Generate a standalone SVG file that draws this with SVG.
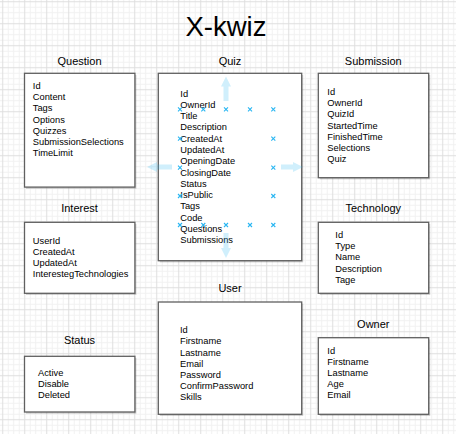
<svg xmlns="http://www.w3.org/2000/svg" width="456" height="434" viewBox="0 0 456 434">
<style>
.box{fill:#fff;stroke:#606060;stroke-width:1.3}
.shadow{fill:#000;opacity:0.18}
.title{font-family:"Liberation Sans",Arial,sans-serif;font-size:11px;fill:#000;text-anchor:middle}
.body{font-family:"Liberation Sans",Arial,sans-serif;font-size:9.3px;fill:#000}
.head{font-family:"Liberation Sans",Arial,sans-serif;font-size:27.5px;fill:#000;text-anchor:middle}
.hx{stroke:#29b6f2;stroke-width:1.1;fill:none}
.harrow{fill:#29b6f2;fill-opacity:0.22}
</style>
<defs>
<pattern id="grid" width="22" height="22" patternUnits="userSpaceOnUse" x="-11.05" y="-12.05">
<path d="M2.75 0V22M8.25 0V22M19.25 0V22M0 2.75H22M0 8.25H22M0 19.25H22" stroke="#f1f1f1" stroke-width="1" fill="none"/>
<path d="M13.75 0V22M0 13.75H22" stroke="#dedede" stroke-width="1" fill="none"/>
</pattern>
</defs>
<rect width="456" height="434" fill="#fff"/>
<rect width="456" height="434" fill="url(#grid)"/>

<text class="head" x="226" y="35.7">X-kwiz</text>

<g id="connectors"/>

<g id="node-question">
<text class="title" x="79.5" y="64.5">Question</text>
<rect class="shadow" x="26" y="75" width="110.4" height="113.8"/>
<rect class="box" x="24.5" y="73.3" width="110.4" height="113.8"/>
<text class="body" x="32.8" y="89"><tspan x="32.8">Id</tspan><tspan x="32.8" dy="11.2">Content</tspan><tspan x="32.8" dy="11.2">Tags</tspan><tspan x="32.8" dy="11.2">Options</tspan><tspan x="32.8" dy="11.2">Quizzes</tspan><tspan x="32.8" dy="11.2">SubmissionSelections</tspan><tspan x="32.8" dy="11.2">TimeLimit</tspan></text>
</g>

<g id="node-quiz">
<text class="title" x="230" y="64.5">Quiz</text>
<rect class="shadow" x="159.8" y="75" width="143.4" height="187.4"/>
<rect class="box" x="158.3" y="73.3" width="143.4" height="187.4"/>
<text class="body" x="180.3" y="96.6"><tspan x="180.3">Id</tspan><tspan x="180.3" dy="11.28">OwnerId</tspan><tspan x="180.3" dy="11.28">Title</tspan><tspan x="180.3" dy="11.28">Description</tspan><tspan x="180.3" dy="11.28">CreatedAt</tspan><tspan x="180.3" dy="11.28">UpdatedAt</tspan><tspan x="180.3" dy="11.28">OpeningDate</tspan><tspan x="180.3" dy="11.28">ClosingDate</tspan><tspan x="180.3" dy="11.28">Status</tspan><tspan x="180.3" dy="11.28">IsPublic</tspan><tspan x="180.3" dy="11.28">Tags</tspan><tspan x="180.3" dy="11.28">Code</tspan><tspan x="180.3" dy="11.28">Questions</tspan><tspan x="180.3" dy="11.28">Submissions</tspan></text>
</g>

<g id="node-submission">
<text class="title" x="373.3" y="64.5">Submission</text>
<rect class="shadow" x="319.8" y="75" width="110.4" height="104.4"/>
<rect class="box" x="318.3" y="73.3" width="110.4" height="104.4"/>
<text class="body" x="327.3" y="95"><tspan x="327.3">Id</tspan><tspan x="327.3" dy="11.17">OwnerId</tspan><tspan x="327.3" dy="11.17">QuizId</tspan><tspan x="327.3" dy="11.17">StartedTime</tspan><tspan x="327.3" dy="11.17">FinishedTime</tspan><tspan x="327.3" dy="11.17">Selections</tspan><tspan x="327.3" dy="11.17">Quiz</tspan></text>
</g>

<g id="node-interest">
<text class="title" x="79.5" y="212">Interest</text>
<rect class="shadow" x="26" y="224" width="110.4" height="71"/>
<rect class="box" x="24.5" y="222.3" width="110.4" height="71"/>
<text class="body" x="32.8" y="244"><tspan x="32.8">UserId</tspan><tspan x="32.8" dy="11.1">CreatedAt</tspan><tspan x="32.8" dy="11.1">UpdatedAt</tspan><tspan x="32.8" dy="11.1">InterestegTechnologies</tspan></text>
</g>

<g id="node-status">
<text class="title" x="79.5" y="344">Status</text>
<rect class="shadow" x="26" y="358" width="110.4" height="55.7"/>
<rect class="box" x="24.5" y="356.3" width="110.4" height="55.7"/>
<text class="body" x="38" y="376"><tspan x="38">Active</tspan><tspan x="38" dy="10.8">Disable</tspan><tspan x="38" dy="10.8">Deleted</tspan></text>
</g>

<g id="node-user">
<text class="title" x="230" y="292">User</text>
<rect class="shadow" x="159.8" y="303.7" width="143.4" height="112.3"/>
<rect class="box" x="158.3" y="302" width="143.4" height="112.3"/>
<text class="body" x="180" y="333.3"><tspan x="180">Id</tspan><tspan x="180" dy="11.17">Firstname</tspan><tspan x="180" dy="11.17">Lastname</tspan><tspan x="180" dy="11.17">Email</tspan><tspan x="180" dy="11.17">Password</tspan><tspan x="180" dy="11.17">ConfirmPassword</tspan><tspan x="180" dy="11.17">Skills</tspan></text>
</g>

<g id="node-technology">
<text class="title" x="373.3" y="212">Technology</text>
<rect class="shadow" x="319.8" y="224" width="110.4" height="71"/>
<rect class="box" x="318.3" y="222.3" width="110.4" height="71"/>
<text class="body" x="335.3" y="237.6"><tspan x="335.3">Id</tspan><tspan x="335.3" dy="11.4">Type</tspan><tspan x="335.3" dy="11.4">Name</tspan><tspan x="335.3" dy="11.4">Description</tspan><tspan x="335.3" dy="11.4">Tage</tspan></text>
</g>

<g id="node-owner">
<text class="title" x="373.3" y="328">Owner</text>
<rect class="shadow" x="319.8" y="339.4" width="110.4" height="76.6"/>
<rect class="box" x="318.3" y="337.7" width="110.4" height="76.6"/>
<text class="body" x="327.3" y="354.3"><tspan x="327.3">Id</tspan><tspan x="327.3" dy="10.8">Firstname</tspan><tspan x="327.3" dy="10.8">Lastname</tspan><tspan x="327.3" dy="10.8">Age</tspan><tspan x="327.3" dy="10.8">Email</tspan></text>
</g>

<g id="selection-overlay">
<path class="harrow" d="M147 167L157 162V164.5H172V169.5H157V172Z"/>
<path class="harrow" d="M303 167L293 162V164.5H281V169.5H293V172Z"/>
<path class="harrow" d="M226 76.5L221 86.5H223.5V101H228.5V86.5H231Z"/>
<path class="harrow" d="M226 258L221 248H223.5V233H228.5V248H231Z"/>
<path class="hx" d="M178 107.3l4 4m0-4l-4 4M201.3 107.3l4 4m0-4l-4 4M224 107.3l4 4m0-4l-4 4M248 107.3l4 4m0-4l-4 4M271.3 107.3l4 4m0-4l-4 4M178 136.7l4 4m0-4l-4 4M271.3 136.7l4 4m0-4l-4 4M178 165.7l4 4m0-4l-4 4M271.3 165.7l4 4m0-4l-4 4M178 194l4 4m0-4l-4 4M271.3 194l4 4m0-4l-4 4M178 223l4 4m0-4l-4 4M201.3 223l4 4m0-4l-4 4M224 223l4 4m0-4l-4 4M248 223l4 4m0-4l-4 4M271.3 223l4 4m0-4l-4 4"/>
</g>
</svg>
